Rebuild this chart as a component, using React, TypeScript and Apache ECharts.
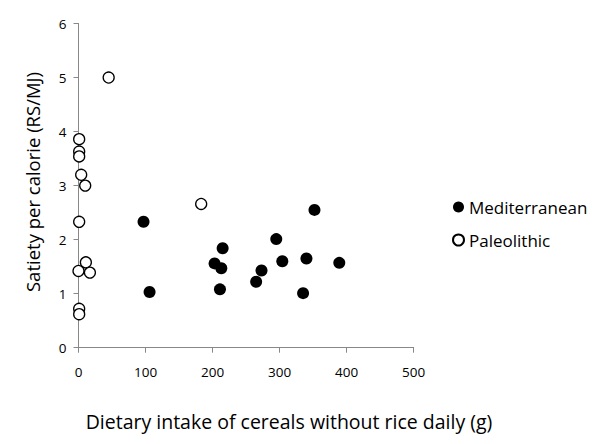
import React, { useEffect, useRef } from "react";
import * as echarts from "echarts";

const xTicks = [0, 100, 200, 300, 400, 500];
const yTicks = [0, 1, 2, 3, 4, 5, 6];

const mediterraneanX = [97, 106, 203, 215, 213, 211, 295, 273, 265, 304, 340, 352, 389, 335];
const mediterraneanY = [2.33, 1.03, 1.56, 1.84, 1.47, 1.08, 2.01, 1.43, 1.22, 1.6, 1.65, 2.55, 1.57, 1.01];

const paleolithicX = [45, 1, 1, 1, 4, 10, 183, 1, 11, 0, 17, 1, 1];
const paleolithicY = [5.0, 3.86, 3.63, 3.54, 3.2, 3.0, 2.66, 2.33, 1.58, 1.42, 1.39, 0.72, 0.62];

const xTitle = "Dietary intake of cereals without rice daily (g)";
const yTitle = "Satiety per calorie (RS/MJ)";

const FONT = "'Open Sans', sans-serif";

export default function App() {
  const ref = useRef<HTMLDivElement>(null);
  useEffect(() => {
    if (!ref.current) return;
    const chart = echarts.init(ref.current, undefined, { renderer: "svg" });
    const med = mediterraneanX.map((x, i) => [x, mediterraneanY[i]]);
    const pal = paleolithicX.map((x, i) => [x, paleolithicY[i]]);
    chart.setOption({
      animation: false,
      backgroundColor: "#ffffff",
      textStyle: { fontFamily: FONT },
      grid: { left: 78.5, right: 186.3, top: 23.5, bottom: 96.3, containLabel: false },
      xAxis: {
        type: "value",
        min: xTicks[0],
        max: xTicks[xTicks.length - 1],
        interval: 100,
        splitLine: { show: false },
        axisLine: { show: true, lineStyle: { color: "#888888", width: 1 } },
        axisTick: { show: true, length: 5, lineStyle: { color: "#888888" } },
        axisLabel: { color: "#000000", fontSize: 13.5, fontFamily: FONT, margin: 17 },
      },
      yAxis: {
        type: "value",
        min: yTicks[0],
        max: yTicks[yTicks.length - 1],
        interval: 1,
        splitLine: { show: false },
        axisLine: { show: true, lineStyle: { color: "#888888", width: 1 } },
        axisTick: { show: true, length: 5, lineStyle: { color: "#888888" } },
        axisLabel: { color: "#000000", fontSize: 13.5, fontFamily: FONT, margin: 12 },
      },
      legend: {
        orient: "vertical",
        left: 452,
        top: 197,
        padding: 0,
        itemWidth: 11,
        itemHeight: 11,
        itemGap: 13,
        textStyle: { fontSize: 17, fontFamily: FONT, color: "#000000", lineHeight: 20 },
        data: [
          { name: "Mediterranean", icon: "circle" },
          { name: "Paleolithic", icon: "circle" },
        ],
      },
      graphic: [
        {
          type: "text",
          x: 289,
          y: 421,
          style: {
            text: xTitle,
            fontSize: 19.5,
            fontFamily: FONT,
            fill: "#000000",
            align: "center",
            verticalAlign: "middle",
          },
        },
        {
          type: "text",
          x: 32,
          y: 182,
          rotation: Math.PI / 2,
          style: {
            text: yTitle,
            fontSize: 18.5,
            fontFamily: FONT,
            fill: "#000000",
            align: "center",
            verticalAlign: "middle",
          },
        },
      ],
      series: [
        {
          name: "Mediterranean",
          type: "scatter",
          symbol: "circle",
          symbolSize: 12,
          data: med,
          itemStyle: { color: "#000000", borderColor: "#000000", borderWidth: 0, opacity: 1 },
        },
        {
          name: "Paleolithic",
          type: "scatter",
          symbol: "circle",
          symbolSize: 11,
          data: pal,
          itemStyle: { color: "#ffffff", borderColor: "#000000", borderWidth: 1.3, opacity: 1 },
        },
      ],
    });
    return () => chart.dispose();
  }, []);
  return <div ref={ref} style={{ width: 600, height: 444, position: "absolute", left: 0, top: 0 }} />;
}
